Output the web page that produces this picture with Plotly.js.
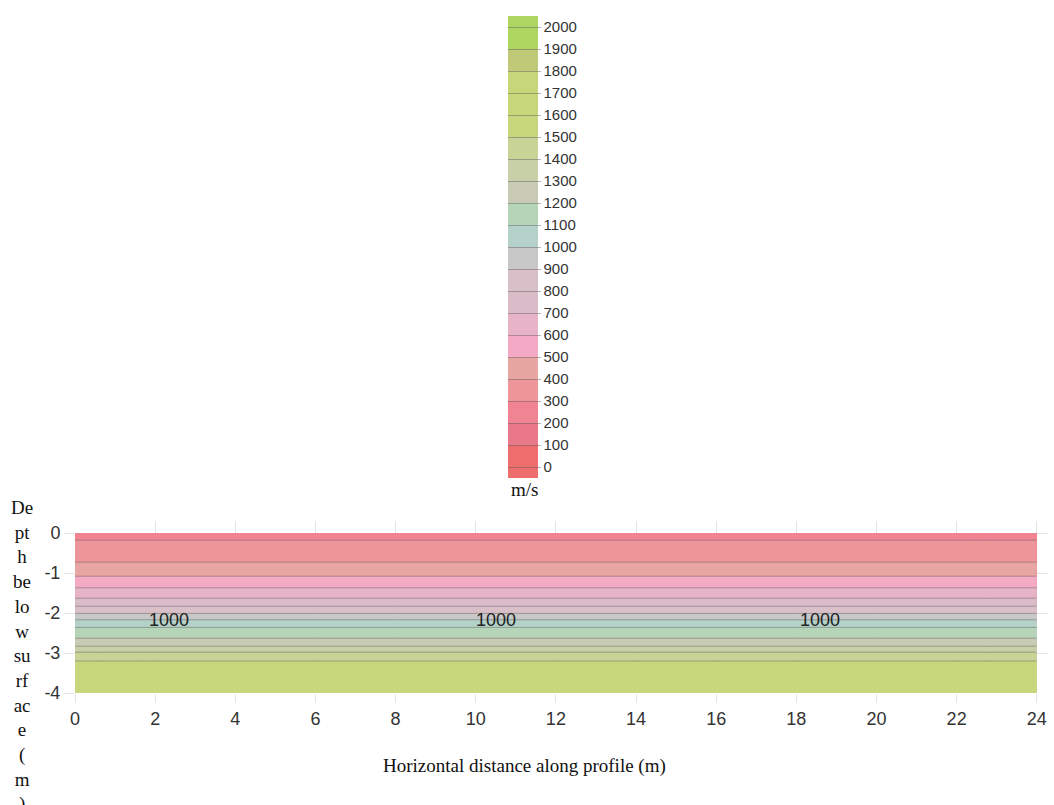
<!DOCTYPE html>
<html>
<head>
<meta charset="utf-8">
<script src="https://cdn.plot.ly/plotly-3.0.1.min.js"></script>
<style>html,body{margin:0;padding:0;background:#fff;}#chart{width:1054px;height:805px;}</style>
</head>
<body>
<div id="chart"></div>
<script>
// Horizontal positions along the profile (m)
const distance = [0, 2, 4, 6, 8, 10, 12, 14, 16, 18, 20, 22, 24];
// Depth below surface (m) of the velocity nodes
const depth = [0, -0.18, -0.73, -1.08, -1.37, -1.63, -1.83, -2.01, -2.17, -2.36, -2.63, -2.83, -2.98, -3.20, -4.0];
// Velocity (m/s) at each depth node
const velocity = [210, 300, 400, 500, 600, 700, 800, 900, 1000, 1100, 1200, 1300, 1400, 1500, 1580];
// Band colours, from below 0 up to above 2000 m/s
const bandColors = [
  '#ee6e6e', '#ee6e6e', '#e8788a', '#f08492', '#ee9599', '#e8a6a3', '#f4a9c5',
  '#e6b4c6', '#dabbc8', '#d8bfc8', '#c8c8c8', '#b4d2c9', '#b6d5b8', '#c9cbb5',
  '#c8d0a8', '#c8d396', '#c8d67c', '#c8d77a', '#c8d67a', '#bfc978', '#acd660', '#aed562'
];
// Labelled contour level (m/s)
const labelLevel = 1000;
const yTickVals = [0, -1, -2, -3, -4];
const yTickText = ['0', '-1', '-2', '-3', '-4'];
const yTitleLines = ['De', 'pt', 'h', 'be', 'lo', 'w', 'su', 'rf', 'ac', 'e', '(', 'm', ')'];

const z = velocity.map(v => distance.map(() => v));
const colorscale = bandColors.map((c, i) => [i / (bandColors.length - 1), c]);
const serif = '"Liberation Serif", "Times New Roman", serif';
const sans = 'Arial, "Liberation Sans", sans-serif';

const main = {
  type: 'contour', x: distance, y: depth, z: z,
  colorscale: colorscale,
  autocontour: false,
  contours: {start: 0, end: 2000, size: 100, coloring: 'fill', showlabels: false},
  line: {color: 'rgba(90,90,90,0.45)', width: 1},
  hoverinfo: 'skip',
  colorbar: {
    xref: 'container', yref: 'container',
    x: 0.4725, xanchor: 'left', xpad: 10,
    y: 0.9064, yanchor: 'top', ypad: 0,
    len: 462, lenmode: 'pixels', thickness: 30, thicknessmode: 'pixels',
    outlinewidth: 0,
    tick0: 0, dtick: 100,
    ticks: 'outside', ticklen: 3, tickcolor: 'rgba(90,90,90,0.45)',
    ticklabeloverflow: 'allow',
    tickfont: {family: sans, size: 15, color: '#333'}
  }
};

// contour label positions along the profile
const levelDepth = depth[velocity.indexOf(labelLevel)];
const labelAnnotations = [2.35, 10.5, 18.6].map(xp => ({
  text: String(labelLevel), xref: 'x', yref: 'y', x: xp, y: levelDepth,
  xanchor: 'center', yanchor: 'middle', showarrow: false,
  font: {family: sans, size: 18, color: '#222'}
}));

const layout = {
  width: 1054, height: 805,
  margin: {l: 75, r: 6, t: 521, b: 112, autoexpand: false},
  paper_bgcolor: '#fff', plot_bgcolor: '#fff',
  showlegend: false,
  xaxis: {
    range: [0, 24.28], dtick: 2, tick0: 0,
    ticks: 'outside', ticklen: 9, tickcolor: '#e4e4e4',
    showgrid: true, gridcolor: '#e4e4e4', zeroline: false, showline: false,
    tickfont: {family: sans, size: 18, color: '#333'}
  },
  yaxis: {
    range: [-4, 0.3], tickvals: yTickVals, ticktext: yTickText,
    ticks: 'outside', ticklen: 10, tickcolor: '#e4e4e4',
    showgrid: true, gridcolor: '#e4e4e4', zeroline: false, showline: false,
    tickfont: {family: sans, size: 18, color: '#333'}
  },
  annotations: labelAnnotations.concat([
    {text: yTitleLines.join('<br>'), xref: 'paper', yref: 'paper', x: -0.0545, y: 1.151,
     xanchor: 'center', yanchor: 'top', showarrow: false, align: 'center',
     font: {family: serif, size: 19, color: '#111'}},
    {text: 'Horizontal distance along profile (m)', xref: 'paper', yref: 'paper', x: 0.4615, y: -0.4244,
     xanchor: 'center', yanchor: 'middle', showarrow: false,
     font: {family: serif, size: 19, color: '#111'}},
    {text: 'm/s', xref: 'paper', yref: 'paper', x: 0.4615, y: 1.186,
     xanchor: 'center', yanchor: 'middle', showarrow: false,
     font: {family: serif, size: 19, color: '#111'}}
  ])
};

Plotly.newPlot('chart', [main], layout, {displayModeBar: false, staticPlot: true});
</script>
</body>
</html>
